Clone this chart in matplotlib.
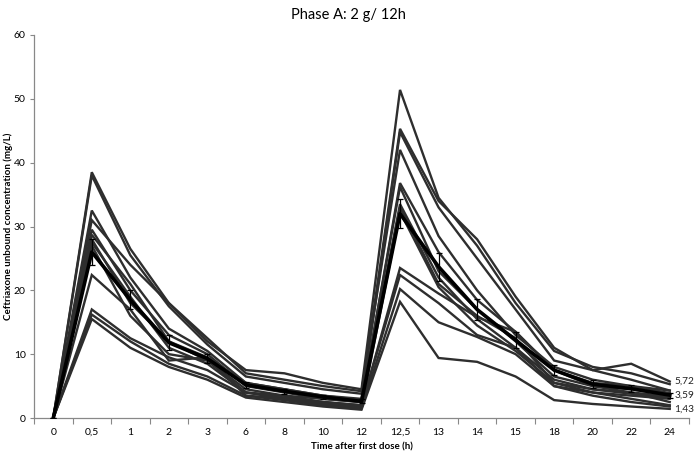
import matplotlib
matplotlib.use("Agg")
import matplotlib.pyplot as plt
import numpy as np

times = ["0", "0,5", "1", "2", "3", "6", "8", "10", "12", "12,5", "13", "14", "15", "18", "20", "22", "24"]

patients = [
    [0, 38.5, 26.5, 18.0, 12.0, 7.5, 7.0, 5.5, 4.5, 51.4, 34.5, 27.0, 18.0, 10.5, 8.0, 7.0, 5.3],
    [0, 38.0, 25.5, 17.5, 11.5, 6.5, 5.5, 4.5, 3.8, 45.3, 34.0, 28.0, 19.0, 11.0, 7.5, 8.5, 5.72],
    [0, 32.5, 22.0, 14.0, 10.5, 5.5, 4.5, 3.5, 3.0, 44.8, 33.0, 25.0, 17.0, 9.0, 7.5, 6.0, 4.3],
    [0, 31.0, 24.0, 18.0, 12.5, 7.0, 6.0, 5.0, 4.2, 42.0, 28.5, 20.0, 13.0, 8.0, 6.0, 5.0, 4.3],
    [0, 29.5, 20.0, 13.0, 10.0, 5.0, 4.0, 3.0, 2.5, 36.8, 26.0, 18.5, 13.5, 7.5, 5.5, 5.0, 3.9],
    [0, 28.7, 21.0, 12.0, 9.5, 5.5, 4.5, 3.5, 2.8, 36.2, 23.0, 17.0, 12.0, 6.5, 5.0, 4.5, 3.6],
    [0, 28.0, 18.0, 12.0, 9.0, 4.5, 3.5, 2.5, 2.0, 33.5, 22.0, 15.5, 11.0, 6.0, 4.5, 4.0, 3.4],
    [0, 27.5, 19.0, 11.0, 8.5, 4.0, 3.5, 3.0, 2.5, 33.0, 21.0, 16.0, 12.5, 5.5, 4.5, 3.8, 3.2],
    [0, 27.0, 16.0, 10.0, 9.0, 4.0, 3.0, 2.2, 1.6, 32.3, 20.5, 14.5, 10.5, 5.5, 4.0, 3.5, 3.0],
    [0, 22.4, 17.0, 9.0, 9.5, 3.5, 3.0, 2.5, 1.8, 23.5, 19.5, 15.8, 13.5, 7.5, 5.0, 4.0, 2.5],
    [0, 17.0, 12.5, 9.5, 7.5, 4.0, 3.2, 2.5, 2.0, 22.4, 18.0, 13.0, 11.0, 5.0, 4.0, 3.0, 2.0],
    [0, 16.2, 12.0, 8.5, 6.5, 3.5, 2.8, 2.0, 1.5, 20.2, 15.0, 12.7, 10.0, 5.0, 3.5, 2.5, 1.8],
    [0, 15.5, 11.0, 8.0, 6.0, 3.2, 2.5, 1.8, 1.3, 18.2, 9.4, 8.8, 6.5, 2.8, 2.2, 1.8, 1.43],
]

mean_vals = [0, 26.0, 18.5, 11.8, 9.3, 5.2, 4.2, 3.3, 2.6, 32.0, 23.7, 17.0, 12.2, 7.5, 5.3, 4.6, 3.59]
sem_vals = [0, 2.0, 1.5, 1.2, 0.7, 0.5, 0.4, 0.35, 0.3, 2.3, 2.2, 1.6, 1.2, 0.8, 0.6, 0.5, 0.4]

end_labels = ["5,72", "3,59", "1,43"]
end_values = [5.72, 3.59, 1.43]

plt.rcParams['font.family'] = ['Lato', 'DejaVu Sans']

fig = plt.figure(figsize=(6.96, 4.54), dpi=100)
ax = fig.add_axes([34/696, 1-418/454, (689-34)/696, (418-35)/454])

x = np.arange(len(times))
for p in patients:
    ax.plot(x, p, color='#2e2e2e', lw=1.7, solid_joinstyle='miter')

ax.errorbar(x, mean_vals, yerr=sem_vals, color='black', lw=2.6, elinewidth=0.9,
            capsize=2.5, capthick=0.9, zorder=5)

for lab, v in zip(end_labels, end_values):
    ax.text(16.12, v, lab, fontsize=7.3, va='center', ha='left', color='#222222')

ax.set_xlim(-0.5, 16.5)
ax.set_ylim(0, 60)
ax.set_yticks(range(0, 61, 10))
ax.set_xticks(x)
ax.set_xticklabels(times, fontsize=7.5)
ax.set_xticks(np.arange(-0.5, 16.6, 1), minor=True)
ax.tick_params(axis='x', which='major', length=0, pad=7)
ax.tick_params(axis='x', which='minor', length=4, color='#888888', width=0.8)
ax.tick_params(axis='y', labelsize=7.5, length=3, color='#888888', width=0.8, pad=3)
for s in ['top', 'right']:
    ax.spines[s].set_visible(False)
for s in ['left', 'bottom']:
    ax.spines[s].set_color('#888888')
    ax.spines[s].set_linewidth(0.9)

ax.set_xlabel("Time after first dose (h)", fontsize=7, fontweight='bold', labelpad=4)
fig.text(8/696, 1-226/454, "Ceftriaxone unbound concentration (mg/L)", rotation=90,
         ha='center', va='center', fontsize=7, fontweight='bold')
fig.text(0.5, 1-15/454, "Phase A: 2 g/ 12h", ha='center', va='center', fontsize=10.5)

fig.savefig("out.png", dpi=100)
